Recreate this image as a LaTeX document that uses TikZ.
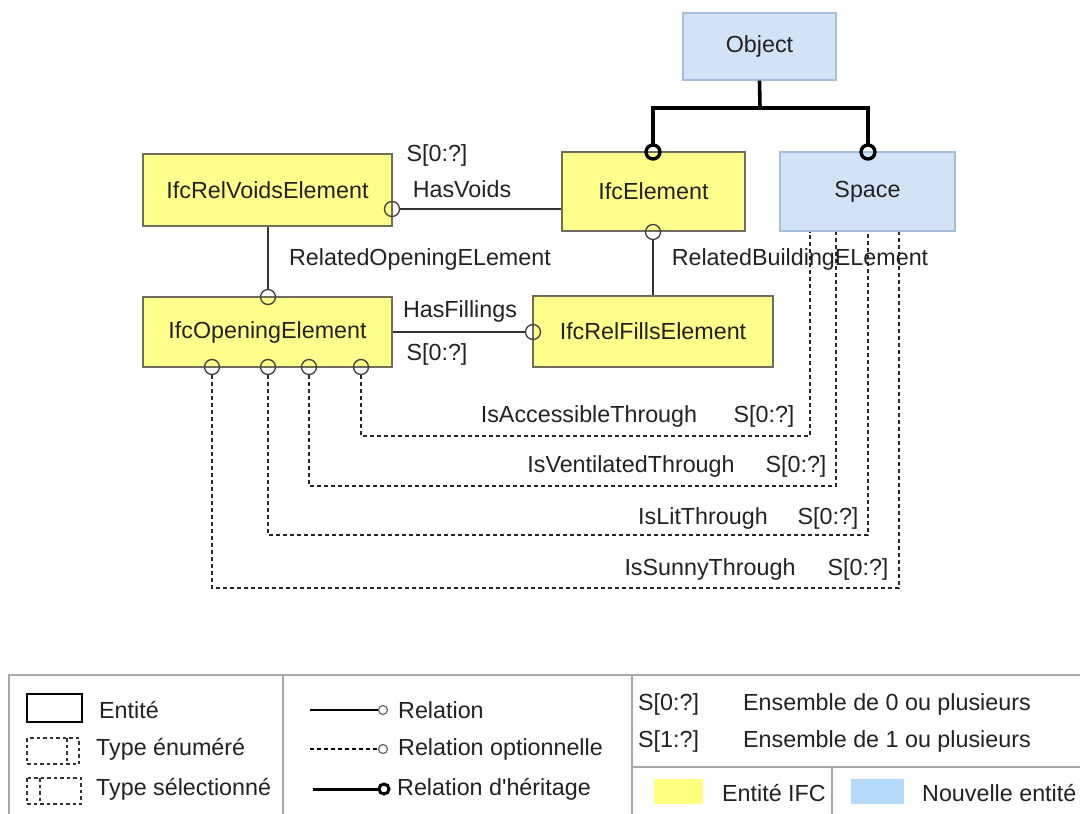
\documentclass[tikz,border=0pt]{standalone}
\usepackage{fontspec}
\setmainfont{Liberation Sans}[Ligatures=TeXOff]
\definecolor{ifcyellow}{HTML}{FFFF8C}
\definecolor{ifcborder}{HTML}{6E6E5A}
\definecolor{newblue}{HTML}{D2E3F6}
\definecolor{newborder}{HTML}{A3BEDD}
\definecolor{swyellow}{HTML}{FFFF80}
\definecolor{swblue}{HTML}{B5D9FA}
\definecolor{legline}{HTML}{A8A8A8}
\definecolor{txt}{HTML}{222222}
\begin{document}
\begin{tikzpicture}[x=1pt,y=-1pt,
  every node/.style={text=txt, font=\fontsize{23.3}{27}\selectfont, inner sep=0pt},
  ifcbox/.style={draw=ifcborder, fill=ifcyellow, line width=1.4pt},
  newbox/.style={draw=newborder, fill=newblue, line width=1.4pt},
  rel/.style={draw=black!80, line width=1.3pt},
  opt/.style={draw=black!85, line width=1.2pt, dash pattern=on 4pt off 3pt},
  inh/.style={draw=black, line width=3.6pt},
  smallc/.style={circle, draw=black!75, line width=1.3pt, minimum size=15pt},
  thickc/.style={circle, draw=black, line width=3.4pt, minimum size=14pt},
  lbl/.style={anchor=center},
  legtxt/.style={anchor=west}]
\useasboundingbox[fill=white] (0,0) rectangle (1080,814);

% entity boxes
\node[newbox, minimum width=153pt, minimum height=67pt] (obj) at (759.5,46.5) {Object};
\node[ifcbox, minimum width=183pt, minimum height=79pt] (elem) at (653.5,191.5) {IfcElement};
\node[newbox, minimum width=175pt, minimum height=79pt] (space) at (867.5,191.5) {Space};
\node[ifcbox, minimum width=249pt, minimum height=72pt] (voids) at (267.5,190) {IfcRelVoidsElement};
\node[ifcbox, minimum width=249pt, minimum height=70pt] (open) at (267.5,332) {IfcOpeningElement};
\node[ifcbox, minimum width=240pt, minimum height=71pt] (fills) at (653,331.5) {IfcRelFillsElement};

% inheritance
\coordinate (junc) at (760,108);
\node[thickc] (ci1) at (653,152) {};
\node[thickc] (ci2) at (868,152) {};
\draw[inh] (obj.south) -- (junc);
\draw[inh, line cap=rect] (junc) -| (ci1);
\draw[inh, line cap=rect] (junc) -| (ci2);

% relations
\node[smallc] (chv) at (392,209) {};
\draw[rel] (chv) -- (chv -| elem.west);
\node[smallc] (cro) at (268,297) {};
\draw[rel] (cro) -- (cro |- voids.south);
\node[smallc] (crb) at (653,232) {};
\draw[rel] (crb) -- (crb |- fills.north);
\node[smallc] (chf) at (533,332) {};
\draw[rel] (chf) -- (chf -| open.east);

% optional relations
\node[smallc] (d1) at (361,367) {};
\node[smallc] (d2) at (309,367) {};
\node[smallc] (d3) at (268,367) {};
\node[smallc] (d4) at (212,367) {};
\coordinate (a1) at (810,436);
\coordinate (a2) at (836,486);
\coordinate (a3) at (868,535);
\coordinate (a4) at (899,588);
\draw[opt] (d1) |- (a1) -- (a1 |- space.south);
\draw[opt] (d2) |- (a2) -- (a2 |- space.south);
\draw[opt] (d3) |- (a3) -- (a3 |- space.south);
\draw[opt] (d4) |- (a4) -- (a4 |- space.south);

% labels
\node[lbl] (l1) at (437,155) {S[0:?]};
\node[lbl] (l2) at (462,189) {HasVoids};
\node[lbl] (l3) at (420,259) {RelatedOpeningELement};
\node[lbl] (l4) at (800,259) {RelatedBuildingELement};
\node[lbl] (l5) at (460,311) {HasFillings};
\node[lbl] (l6) at (437,354) {S[0:?]};
\node[lbl] (l7) at (589,416) {IsAccessibleThrough};
\node[lbl] (l8) at (764,416) {S[0:?]};
\node[lbl] (l9) at (631,466) {IsVentilatedThrough};
\node[lbl] (l10) at (796,466) {S[0:?]};
\node[lbl] (l11) at (703,518) {IsLitThrough};
\node[lbl] (l12) at (828,518) {S[0:?]};
\node[lbl] (l13) at (710,569) {IsSunnyThrough};
\node[lbl] (l14) at (858,569) {S[0:?]};

% legend frame
\draw[legline, line width=1.6pt] (9,814) -- (9,675) -- (1080,675);
\draw[legline, line width=1.6pt] (283,675) -- (283,814);
\draw[legline, line width=1.6pt] (632,675) -- (632,814);
\draw[legline, line width=1.6pt] (632,767) -- (1080,767);
\draw[legline, line width=1.6pt] (832,767) -- (832,814);

% legend column 1
\draw[black, line width=1.5pt] (27,694) rectangle (82,722);
\node[legtxt] (t1) at (99,710) {Entité};
\draw[black!80, line width=1.2pt, dash pattern=on 3.5pt off 3pt] (27,738) rectangle (79,764);
\draw[black!80, line width=1.2pt, dash pattern=on 3.5pt off 3pt] (67,738) -- (67,764);
\node[legtxt] (t2) at (96,749) {Type énuméré};
\draw[black!80, line width=1.2pt, dash pattern=on 3.5pt off 3pt] (27,778) rectangle (81,804);
\draw[black!80, line width=1.2pt, dash pattern=on 3.5pt off 3pt] (40,778) -- (40,804);
\node[legtxt] (t3) at (96,789) {Type sélectionné};

% legend column 2
\node[circle, draw=black!60, line width=1.2pt, minimum size=9pt] (lc1) at (383,710) {};
\coordinate (ls1) at (310,710);
\draw[black, line width=1.3pt] (ls1) -- (lc1);
\node[legtxt] (t4) at (398,710) {Relation};
\node[circle, draw=black!60, line width=1.2pt, minimum size=9pt] (lc2) at (383,749) {};
\coordinate (ls2) at (310,749);
\draw[black, line width=1.1pt, dash pattern=on 4pt off 3pt] (ls2) -- (lc2);
\node[legtxt] (t5) at (398,749) {Relation optionnelle};
\node[circle, draw=black, line width=3pt, minimum size=10pt] (lc3) at (384,789) {};
\coordinate (ls3) at (313,789);
\draw[black, line width=3pt] (ls3) -- (lc3);
\node[legtxt] (t6) at (397,789) {Relation d'héritage};

% legend column 3
\node[legtxt] (t7) at (638,704) {S[0:?]};
\node[legtxt] (t8) at (743,704) {Ensemble de 0 ou plusieurs};
\node[legtxt] (t9) at (638,741) {S[1:?]};
\node[legtxt] (t10) at (743,741) {Ensemble de 1 ou plusieurs};
\fill[swyellow] (654,779) rectangle (703,804);
\node[legtxt] (t11) at (722,793) {Entité IFC};
\fill[swblue] (851,779) rectangle (904,804);
\node[legtxt] (t12) at (922,793) {Nouvelle entité};
\end{tikzpicture}
\end{document}
